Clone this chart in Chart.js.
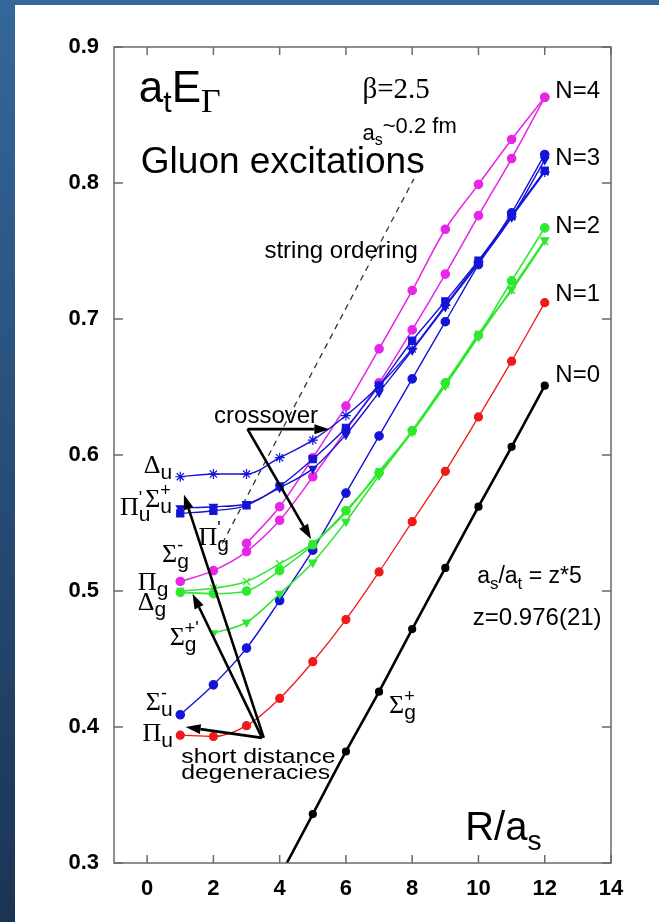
<!DOCTYPE html>
<html>
<head>
<meta charset="utf-8">
<script src="https://cdn.jsdelivr.net/npm/chart.js@4.4.1/dist/chart.umd.min.js"></script>
<style>
  html, body { margin: 0; padding: 0; }
  body {
    width: 659px; height: 922px; position: relative; overflow: hidden;
    background: linear-gradient(to bottom, #34679b 0%, #1b3455 100%);
  }
  #panel { position: absolute; left: 15px; top: 5px; width: 644px; height: 917px; background: #fff; }
</style>
</head>
<body>
<div id="panel"><canvas id="chart" width="644" height="917"></canvas></div>
<script>
// R/a_s values
var R = [1, 2, 3, 4, 5, 6, 7, 8, 9, 10, 11, 12];
var xTicks = [0, 2, 4, 6, 8, 10, 12, 14];
var yTicks = [0.3, 0.4, 0.5, 0.6, 0.7, 0.8, 0.9];

// N=0
var sigmaGp = [null, null, null, 0.290, 0.336, 0.382, 0.426, 0.472, 0.517, 0.562, 0.606, 0.651];
// N=1
var piU = [0.394, 0.393, 0.401, 0.421, 0.448, 0.479, 0.514, 0.551, 0.588, 0.628, 0.669, 0.712];
// N=2
var deltaG = [0.499, 0.498, 0.500, 0.515, 0.534, 0.559, 0.587, 0.618, 0.653, 0.688, 0.728, 0.767];
var piGp = [0.500, 0.502, 0.507, 0.520, 0.535, 0.558, 0.588, 0.617, 0.652, 0.689, 0.721, 0.757];
var sigmaGpp = [null, 0.469, 0.477, 0.498, 0.521, 0.551, 0.585, 0.617, 0.651, 0.687, 0.722, 0.758];
// N=3
var sigmaUm = [0.409, 0.431, 0.458, 0.493, 0.530, 0.572, 0.614, 0.656, 0.698, 0.740, 0.778, 0.821];
var deltaU = [0.584, 0.586, 0.586, 0.598, 0.611, 0.629, 0.651, 0.678, 0.710, 0.742, 0.775, 0.808];
var piUp = [0.557, 0.559, 0.563, 0.577, 0.597, 0.620, 0.651, 0.684, 0.713, 0.743, 0.776, 0.809];
var sigmaUp = [0.561, 0.562, 0.564, 0.576, 0.590, 0.615, 0.646, 0.677, 0.709, 0.741, 0.775, 0.817];
// N=4
var piG = [0.507, 0.515, 0.529, 0.552, 0.584, 0.618, 0.653, 0.692, 0.733, 0.776, 0.818, 0.863];
var sigmaGm = [null, null, 0.535, 0.562, 0.598, 0.636, 0.678, 0.721, 0.766, 0.799, 0.832, 0.863];

var SANS = '"Liberation Sans", Arial, Helvetica, sans-serif';
var SERIF = '"Liberation Serif", "Times New Roman", serif';

function pts(ys) {
    var out = [];
    ys.forEach(function (y, i) {
        if (y !== null) out.push({ x: R[i], y: y });
    });
    return out;
}

function serie(ys, color, style, radius, width, rot) {
    return {
        data: pts(ys),
        borderColor: color,
        backgroundColor: color,
        borderWidth: width,
        pointStyle: style,
        pointRadius: radius,
        pointBorderWidth: 1.2,
        pointRotation: rot || 0,
        cubicInterpolationMode: 'monotone',
        tension: 0.4
    };
}

var RED = '#f01818', GREEN = '#2ee82e', BLUE = '#1414d8', MAG = '#e626e6';

// etiquetas: x, y en datos (esquina izq, linea base)
function greek(x, y, main, sub, sup, subFirst) {
    var parts = [{ t: main, f: '26px ' + SERIF }];
    var pSub = { t: sub, f: '21px ' + SANS, dy: 6 };
    var pSup = sup ? { t: sup, f: '18px ' + SANS, dy: -11 } : null;
    if (subFirst || !pSup) {
        parts.push(pSub);
        if (pSup) { pSup.stack = true; parts.push(pSup); }
    } else {
        parts.push(pSup);
        pSub.stack = true;
        parts.push(pSub);
    }
    return { x: x, y: y, parts: parts };
}

var notes = [
    { x: -0.25, y: 0.8596, parts: [
        { t: 'a', f: '44px ' + SANS }, { t: 't', f: '30px ' + SANS, dy: 10 },
        { t: 'E', f: '44px ' + SANS }, { t: 'Γ', f: '34px ' + SERIF, dy: 10 }] },
    { x: 6.5, y: 0.8625, parts: [{ t: 'β=2.5', f: '29px ' + SERIF }] },
    { x: 6.5, y: 0.8316, parts: [
        { t: 'a', f: '22px ' + SANS }, { t: 's', f: '16px ' + SANS, dy: 5 },
        { t: '~0.2 fm', f: '22px ' + SANS, dy: -7 }] },
    { x: -0.19, y: 0.807, parts: [{ t: 'Gluon excitations', f: '37px ' + SANS }] },
    { x: 3.54, y: 0.7449, parts: [{ t: 'string ordering', f: '24px ' + SANS }] },
    { x: 2.02, y: 0.6235, parts: [{ t: 'crossover', f: '24px ' + SANS }] },
    { x: 1.03, y: 0.3735, sx: 1.18, parts: [{ t: 'short distance', f: '21px ' + SANS }] },
    { x: 1.03, y: 0.3620, sx: 1.18, parts: [{ t: 'degeneracies', f: '21px ' + SANS }] },
    { x: 9.96, y: 0.5059, parts: [
        { t: 'a', f: '23px ' + SANS }, { t: 's', f: '17px ' + SANS, dy: 6 },
        { t: '/a', f: '23px ' + SANS }, { t: 't', f: '17px ' + SANS, dy: 6 },
        { t: ' = z*5', f: '23px ' + SANS }] },
    { x: 9.83, y: 0.475, parts: [{ t: 'z=0.976(21)', f: '24px ' + SANS }] },
    { x: 9.6, y: 0.317, parts: [
        { t: 'R/a', f: '40px ' + SANS }, { t: 's', f: '28px ' + SANS, dy: 10 }] },
    { x: 12.32, y: 0.8625, parts: [{ t: 'N=4', f: '24px ' + SANS }] },
    { x: 12.32, y: 0.813, parts: [{ t: 'N=3', f: '24px ' + SANS }] },
    { x: 12.32, y: 0.763, parts: [{ t: 'N=2', f: '24px ' + SANS }] },
    { x: 12.32, y: 0.7136, parts: [{ t: 'N=1', f: '24px ' + SANS }] },
    { x: 12.32, y: 0.6537, parts: [{ t: 'N=0', f: '24px ' + SANS }] },
    greek(-0.1, 0.587, 'Δ', 'u'),
    greek(-0.82, 0.556, 'Π', 'u', "'", false),
    greek(-0.06, 0.562, 'Σ', 'u', '+', true),
    greek(1.55, 0.534, 'Π', 'g', "'", false),
    greek(0.45, 0.521, 'Σ', 'g', '-', true),
    greek(-0.28, 0.501, 'Π', 'g'),
    greek(-0.28, 0.486, 'Δ', 'g'),
    greek(0.68, 0.460, 'Σ', 'g', "+'", true),
    greek(-0.04, 0.4125, 'Σ', 'u', '-', true),
    greek(-0.14, 0.390, 'Π', 'u'),
    greek(7.3, 0.410, 'Σ', 'g', '+', true)
];

// flechas: desde el vertice hasta la punta
var arrows = [
    [3.03, 0.619, 5.5, 0.619],
    [3.03, 0.619, 4.95, 0.538],
    [3.47, 0.392, 1.16, 0.400],
    [3.47, 0.392, 1.37, 0.498],
    [3.52, 0.392, 1.11, 0.571]
];
var stringLine = [2.27, 0.535, 8.05, 0.803];

function drawRich(ctx, x, y, parts) {
    var cx = x, lastX = x;
    parts.forEach(function (p) {
        ctx.font = p.f;
        var w = ctx.measureText(p.t).width;
        var dx = p.stack ? lastX : cx;
        ctx.fillText(p.t, dx, y + (p.dy || 0));
        if (p.stack) {
            cx = Math.max(cx, dx + w);
        } else {
            lastX = dx;
            cx = dx + w;
        }
    });
}

function drawArrow(ctx, x1, y1, x2, y2) {
    var ang = Math.atan2(y2 - y1, x2 - x1);
    var len = 15, half = 5;
    var bx = x2 - len * Math.cos(ang), by = y2 - len * Math.sin(ang);
    ctx.beginPath();
    ctx.moveTo(x1, y1);
    ctx.lineTo(bx, by);
    ctx.stroke();
    ctx.beginPath();
    ctx.moveTo(x2, y2);
    ctx.lineTo(bx + half * Math.sin(ang), by - half * Math.cos(ang));
    ctx.lineTo(bx - half * Math.sin(ang), by + half * Math.cos(ang));
    ctx.closePath();
    ctx.fill();
}

var extrasPlugin = {
    id: 'extras',
    beforeDatasetsDraw: function (chart) {
        var ctx = chart.ctx, xs = chart.scales.x, ys = chart.scales.y;
        ctx.save();
        ctx.strokeStyle = '#333';
        ctx.lineWidth = 1.3;
        ctx.setLineDash([6, 5]);
        ctx.beginPath();
        ctx.moveTo(xs.getPixelForValue(stringLine[0]), ys.getPixelForValue(stringLine[1]));
        ctx.lineTo(xs.getPixelForValue(stringLine[2]), ys.getPixelForValue(stringLine[3]));
        ctx.stroke();
        ctx.restore();
    },
    afterDatasetsDraw: function (chart) {
        var ctx = chart.ctx, a = chart.chartArea;
        var xs = chart.scales.x, ys = chart.scales.y;
        ctx.save();
        // marco y marcas interiores
        ctx.strokeStyle = '#6a6a6a';
        ctx.lineWidth = 1.5;
        ctx.strokeRect(a.left, a.top, a.right - a.left, a.bottom - a.top);
        ctx.beginPath();
        xTicks.forEach(function (v) {
            var px = xs.getPixelForValue(v);
            ctx.moveTo(px, a.bottom); ctx.lineTo(px, a.bottom - 8);
            ctx.moveTo(px, a.top); ctx.lineTo(px, a.top + 8);
        });
        yTicks.forEach(function (v) {
            var py = ys.getPixelForValue(v);
            ctx.moveTo(a.left, py); ctx.lineTo(a.left + 9, py);
            ctx.moveTo(a.right, py); ctx.lineTo(a.right - 9, py);
        });
        ctx.stroke();

        // flechas
        ctx.strokeStyle = '#000';
        ctx.fillStyle = '#000';
        ctx.lineWidth = 2.6;
        arrows.forEach(function (ar) {
            drawArrow(ctx, xs.getPixelForValue(ar[0]), ys.getPixelForValue(ar[1]),
                xs.getPixelForValue(ar[2]), ys.getPixelForValue(ar[3]));
        });

        // textos
        ctx.fillStyle = '#000';
        ctx.textBaseline = 'alphabetic';
        ctx.textAlign = 'left';
        notes.forEach(function (n) {
            var px = xs.getPixelForValue(n.x), py = ys.getPixelForValue(n.y);
            ctx.save();
            ctx.translate(px, py);
            ctx.scale(n.sx || 1, 1);
            drawRich(ctx, 0, 0, n.parts);
            ctx.restore();
        });
        ctx.restore();
    }
};

var ctx = document.getElementById('chart').getContext('2d');
new Chart(ctx, {
    type: 'line',
    data: {
        datasets: [
            serie(sigmaGp, '#000', 'circle', 3.5, 2.6),
            serie(piU, RED, 'circle', 4, 1.3),
            serie(deltaG, GREEN, 'circle', 4.2, 1.6),
            serie(piGp, GREEN, 'crossRot', 5, 1.6),
            serie(sigmaGpp, GREEN, 'triangle', 4.5, 1.6, 180),
            serie(sigmaUm, BLUE, 'circle', 4.2, 1.4),
            serie(deltaU, BLUE, 'star', 5, 1.4),
            serie(piUp, BLUE, 'rect', 5, 1.4),
            serie(sigmaUp, BLUE, 'triangle', 4.5, 1.4, 180),
            serie(piG, MAG, 'circle', 4.2, 1.5),
            serie(sigmaGm, MAG, 'circle', 4.2, 1.5)
        ]
    },
    options: {
        responsive: false,
        animation: false,
        layout: { padding: { top: 42, right: 48, bottom: 0, left: 0 } },
        plugins: {
            legend: { display: false },
            tooltip: { enabled: false }
        },
        scales: {
            x: {
                type: 'linear',
                min: -1,
                max: 14,
                grid: { display: false, drawTicks: false },
                border: { display: false },
                afterBuildTicks: function (scale) {
                    scale.ticks = xTicks.map(function (v) { return { value: v }; });
                },
                afterFit: function (scale) { scale.height = 59; },
                ticks: {
                    padding: 13,
                    color: '#000',
                    font: { family: SANS, size: 22, weight: 'bold' },
                    callback: function (v) { return String(v); }
                }
            },
            y: {
                type: 'linear',
                min: 0.3,
                max: 0.9,
                grid: { display: false, drawTicks: false },
                border: { display: false },
                afterBuildTicks: function (scale) {
                    scale.ticks = yTicks.map(function (v) { return { value: v }; });
                },
                afterFit: function (scale) { scale.width = 99; },
                ticks: {
                    padding: 15,
                    color: '#000',
                    font: { family: SANS, size: 22, weight: 'bold' },
                    callback: function (v) { return v.toFixed(1); }
                }
            }
        }
    },
    plugins: [extrasPlugin]
});
</script>
</body>
</html>
